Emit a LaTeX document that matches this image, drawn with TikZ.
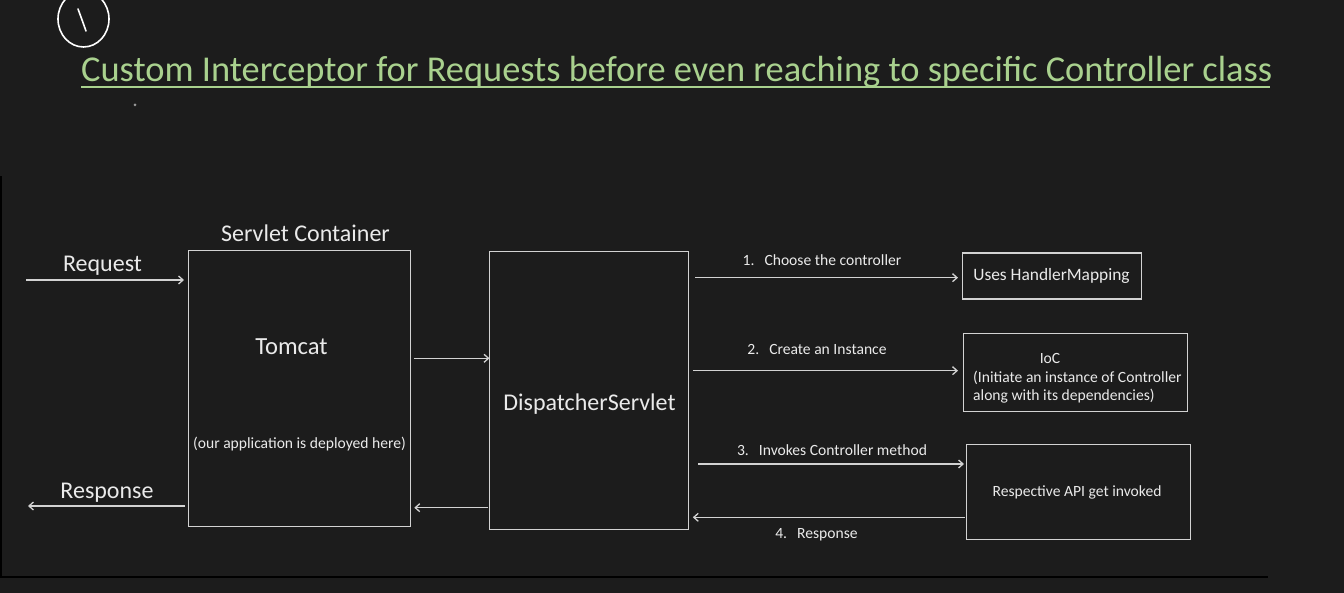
\documentclass[tikz,border=0pt]{standalone}
\usepackage{fontspec}
\setmainfont{Carlito}
\usetikzlibrary{arrows.meta,calc}
\definecolor{bg}{HTML}{1C1C1C}
\definecolor{ln}{HTML}{D2D2D2}
\definecolor{tx}{HTML}{EAEAEA}
\definecolor{ttl}{HTML}{A9D18E}
\newcommand{\numgap}{\hspace{10pt}}
\begin{document}
\begin{tikzpicture}[x=1pt,y=-1pt,
  box/.style={draw=ln,line width=1.3pt,inner sep=0pt,anchor=north west},
  big/.style={text=tx,inner sep=0pt,anchor=base,font=\fontsize{24}{28}\selectfont},
  small/.style={text=tx,inner sep=0pt,anchor=base,font=\fontsize{15.6}{18}\selectfont},
  arr/.style={draw=ln,line width=1.3pt,-{Straight Barb[length=4.5pt,width=8pt]}}]
\fill[bg] (0,0) rectangle (1344,593);
\useasboundingbox (0,0) rectangle (1344,593);
\clip (0,0) rectangle (1344,593);
% panel edges
\fill[black] (0,176) rectangle (2,578);
\fill[black] (0,576) rectangle (1268,578);
% handwritten mark
\draw[white,line width=1.6pt] (83.5,19) ellipse [x radius=25.5, y radius=28];
\draw[white,line width=1.6pt,line cap=round] (78,9) .. controls (81,17) .. (86,31);
\fill[gray!80] (135,105) circle (1.5);
% title
\node[text=ttl,inner sep=0pt,anchor=base west,font=\fontsize{36.4}{40}\selectfont] (title) at (81,82) {Custom Interceptor for Requests before even reaching to specific Controller class};
\draw[ttl,line width=2pt] (81,87) -- (1270,87);
% boxes
\node[box,minimum width=222pt,minimum height=276pt] (tomcat) at (188,250) {};
\node[box,minimum width=199pt,minimum height=278pt] (disp) at (489,251) {};
\node[box,minimum width=179pt,minimum height=46pt] (hm) at (962,252.5) {};
\node[box,minimum width=224pt,minimum height=78pt] (ioc) at (962.5,333) {};
\node[box,minimum width=224.5pt,minimum height=95pt] (api) at (965.5,444) {};
% texts
\node[big] (sc) at (305.5,242) {Servlet Container};
\node[big,font=\fontsize{24.6}{28}\selectfont] (tc) at (291.5,355) {Tomcat};
\node[small] (dep) at (299.5,448) {(our application is deployed here)};
\node[big] (req) at (102.5,272) {Request};
\node[big] (resp) at (107,498) {Response};
\node[big] (dst) at (589.5,410) {DispatcherServlet};
\node[small] (l1) at (822,266) {1.\numgap Choose the controller};
\node[small,font=\fontsize{17.4}{20}\selectfont] (hmt) at (1051.5,281) {Uses HandlerMapping};
\node[small] (l2) at (817,354.5) {2.\numgap Create an Instance};
\node[small] (ioct) at (1050,364) {IoC};
\node[small,anchor=base west] (ioc1) at (973,383) {(Initiate an instance of Controller};
\node[small,anchor=base west] (ioc2) at (973,400) {along with its dependencies)};
\node[small] (l3) at (832,455) {3.\numgap Invokes Controller method};
\node[small] (apit) at (1077,496) {Respective API get invoked};
\node[small] (l4) at (816.5,538.5) {4.\numgap Response};
% connectors
\coordinate (reqstart) at (26,280);
\coordinate (respend) at (28,506);
\draw[arr] (reqstart) -- ($(tomcat.west|-reqstart)+(-4,0)$);
\draw[arr] ($(tomcat.west|-respend)+(-3,0)$) -- (respend);
\draw[arr] ($(tomcat.east|-0,358.3)+(2.5,0)$) -- ($(disp.west|-0,358.3)+(0.5,0)$);
\draw[arr] ($(disp.west|-0,507.7)+(-1,0)$) -- ($(tomcat.east|-0,507.7)+(3,0)$);
\draw[arr] ($(disp.east|-0,277.7)+(6,0)$) -- ($(hm.west|-0,277.7)+(-4,0)$);
\draw[arr] ($(disp.east|-0,370.7)+(3.5,0)$) -- ($(ioc.west|-0,370.7)+(-4.5,0)$);
\draw[arr] ($(disp.east|-0,464)+(9,0)$) -- ($(api.west|-0,464)+(-1.5,0)$);
\draw[arr] ($(api.west|-0,517.3)+(-1,0)$) -- ($(disp.east|-0,517.3)+(3.5,0)$);
\end{tikzpicture}
\end{document}
